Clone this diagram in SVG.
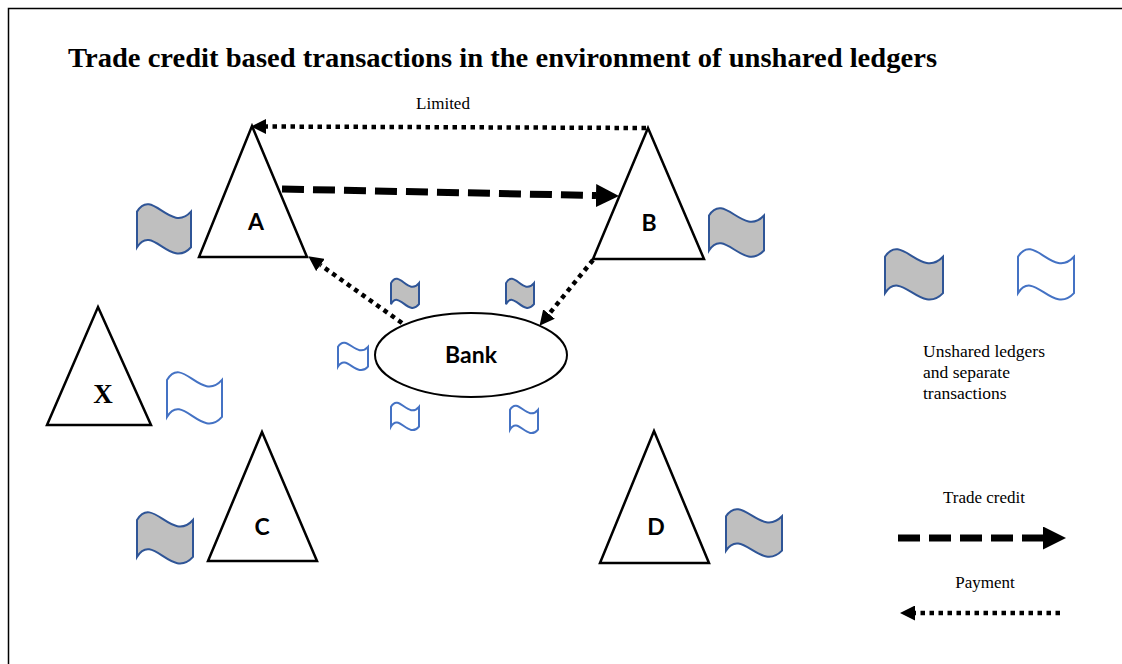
<svg xmlns="http://www.w3.org/2000/svg" xmlns:xlink="http://www.w3.org/1999/xlink" width="1122" height="664" viewBox="0 0 1122 664">
<style>
.tri{fill:#fff;stroke:#000;stroke-width:2.5;stroke-linejoin:miter}
.lbl{font-family:Lato,"Open Sans","Liberation Sans",sans-serif;font-weight:bold;font-size:23px;fill:#000;text-anchor:middle}
.serif{font-family:"Liberation Serif","Times New Roman",serif;fill:#000}
.fg{fill:#bfbfbf;stroke:#2f5597;stroke-width:2}
.fw{fill:#fff;stroke:#4472c4;stroke-width:2}
.dash{fill:none;stroke:#000;stroke-width:7;stroke-dasharray:22 9}
.dot{fill:none;stroke:#000;stroke-width:4.5;stroke-dasharray:4.5 4.5}
</style>
<defs>
<path id="flag" d="M0,16 C28,-30 62,58 100,16 L100,82 C62,124 28,36 0,82 Z" vector-effect="non-scaling-stroke"/>
<marker id="arrowDash" markerUnits="userSpaceOnUse" markerWidth="23" markerHeight="23" viewBox="0 0 23 23" refX="0" refY="11.5" orient="auto"><path d="M0,0 L23,11.5 L0,23 Z" fill="#000"/></marker>
<marker id="arrowDot" markerUnits="userSpaceOnUse" markerWidth="15" markerHeight="15" viewBox="0 0 15 15" refX="0" refY="7.5" orient="auto"><path d="M0,0 L15,7.5 L0,15 Z" fill="#000"/></marker>
</defs>
<rect x="0" y="0" width="1122" height="664" fill="#fff"/>
<path d="M8.5,664 L8.5,8.5 L1122,8.5" fill="none" stroke="#000" stroke-width="1.5"/>
<text id="title" class="serif" x="68" y="67" font-size="28" font-weight="bold" textLength="869" lengthAdjust="spacingAndGlyphs">Trade credit based transactions in the environment of unshared ledgers</text>

<g id="node-A"><polygon class="tri" points="252,126 307,257 199,257"/><text class="lbl" x="256" y="230">A</text></g>
<g id="node-B"><polygon class="tri" points="648,128 704,259 593,259"/><text class="lbl" x="649" y="231">B</text></g>
<g id="node-X"><polygon class="tri" points="98,307 151,425 47,425"/><text class="serif" x="103" y="403" font-size="27" font-weight="bold" text-anchor="middle">X</text></g>
<g id="node-C"><polygon class="tri" points="262,432 317,561 208,561"/><text class="lbl" x="262" y="535">C</text></g>
<g id="node-D"><polygon class="tri" points="654,431 709,563 600,563"/><text class="lbl" x="656" y="535">D</text></g>
<g id="node-bank"><ellipse cx="471" cy="355" rx="96" ry="42" fill="#fff" stroke="#000" stroke-width="2"/><text class="lbl" x="471" y="363" font-size="24">Bank</text></g>

<g id="ledgers">
<use xlink:href="#flag" class="fg" transform="translate(137,203) scale(0.54,0.54)"/>
<use xlink:href="#flag" class="fg" transform="translate(709,207) scale(0.55,0.53)"/>
<use xlink:href="#flag" class="fw" transform="translate(167,371) scale(0.55,0.56)"/>
<use xlink:href="#flag" class="fg" transform="translate(137,511) scale(0.56,0.56)"/>
<use xlink:href="#flag" class="fg" transform="translate(726,508) scale(0.56,0.52)"/>
<use xlink:href="#flag" class="fg" transform="translate(391,278) scale(0.28,0.32)"/>
<use xlink:href="#flag" class="fg" transform="translate(506,278) scale(0.28,0.32)"/>
<use xlink:href="#flag" class="fw" transform="translate(338,342) scale(0.30,0.30)"/>
<use xlink:href="#flag" class="fw" transform="translate(391,402) scale(0.28,0.30)"/>
<use xlink:href="#flag" class="fw" transform="translate(510,405) scale(0.28,0.30)"/>
</g>

<g id="connectors">
<line class="dot" x1="646" y1="128" x2="266" y2="126.5" marker-end="url(#arrowDot)"/>
<text class="serif" x="443" y="109" font-size="17" text-anchor="middle">Limited</text>
<line class="dash" x1="282" y1="189" x2="596" y2="195.5" marker-end="url(#arrowDash)"/>
<line class="dot" x1="402" y1="323" x2="320.5" y2="265" marker-end="url(#arrowDot)"/>
<line class="dot" x1="593" y1="260" x2="549" y2="314" marker-end="url(#arrowDot)"/>
</g>

<g id="legend">
<use xlink:href="#flag" class="fg" transform="translate(885,248) scale(0.58,0.55)"/>
<use xlink:href="#flag" class="fw" transform="translate(1018,248) scale(0.56,0.55)"/>
<text class="serif" font-size="17.5"><tspan x="923" y="357">Unshared ledgers</tspan><tspan x="923" y="378">and separate</tspan><tspan x="923" y="399">transactions</tspan></text>
<text class="serif" x="984" y="503" font-size="17" text-anchor="middle">Trade credit</text>
<line class="dash" x1="898" y1="538" x2="1043" y2="538" marker-end="url(#arrowDash)"/>
<text class="serif" x="985" y="588" font-size="17" text-anchor="middle">Payment</text>
<line class="dot" x1="1060" y1="613" x2="915" y2="613" marker-end="url(#arrowDot)"/>
</g>
</svg>
